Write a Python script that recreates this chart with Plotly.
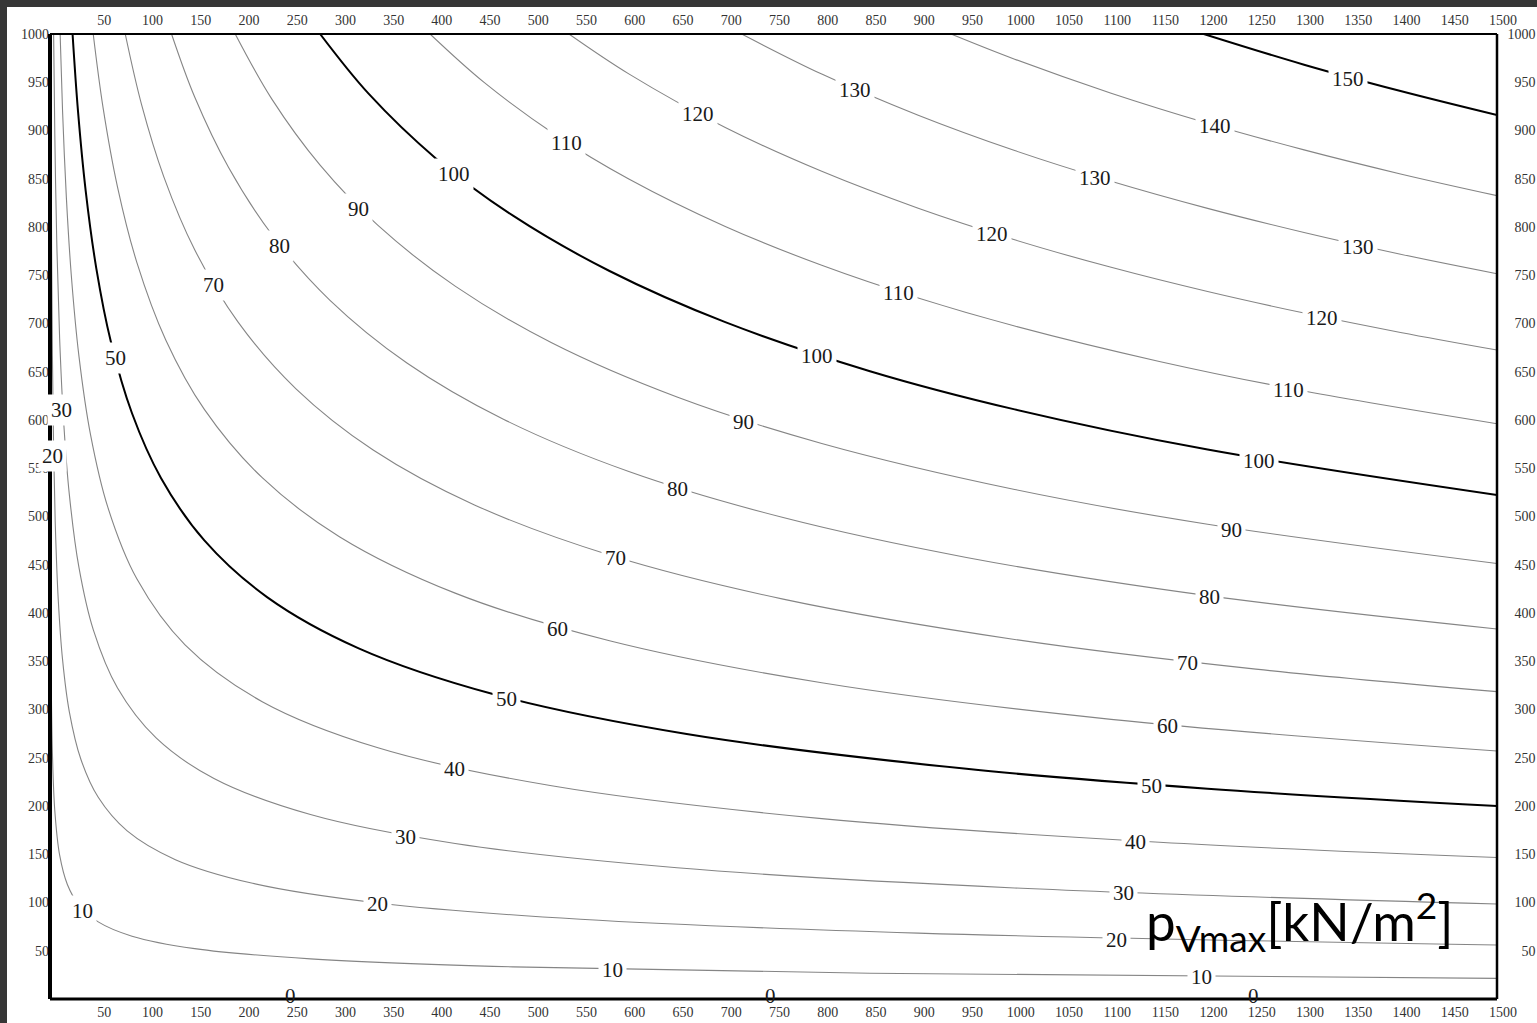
import plotly.graph_objects as go

# ---- contour lines (x, y data units) ----
x10 = [0.073, 0.15, 0.3, 0.6, 1.2, 2.5, 5, 10, 18, 30, 50, 85, 150, 270, 480, 850, 1500]
y10 = [1000, 756.8, 578.7, 442.5, 338.4, 254.7, 194.8, 149.0, 118.7, 97.4, 79.9, 65.1, 52.2, 41.6, 33.3, 26.7, 21.4]
x20 = [0.875, 1.2, 1.7, 2.5, 3.7, 5.5, 8.5, 13, 20, 32, 50, 80, 130, 210, 340, 550, 900, 1500]
y20 = [1000, 885.0, 773.3, 666.2, 572.4, 491.0, 414.8, 351.9, 297.9, 248.4, 209.0, 174.2, 144.4, 119.9, 99.5, 82.6, 68.3, 56.0]
x30 = [3.75, 5, 7, 10, 14, 20, 30, 45, 70, 110, 170, 270, 420, 650, 1000, 1500]
y30 = [1000, 894.7, 785.4, 684.1, 600.6, 523.2, 447.2, 382.2, 322.2, 270.5, 228.5, 191.1, 161.1, 136.0, 115.1, 98.4]
x40 = [10.5, 13, 17, 22, 30, 42, 60, 90, 140, 220, 340, 520, 800, 1150, 1500]
y40 = [1000, 920.7, 829.9, 751.1, 666.2, 584.8, 509.4, 435.4, 367.0, 308.1, 260.3, 220.9, 186.9, 162.4, 146.6]
x50 = [23.4, 29, 37, 48, 63, 85, 115, 160, 225, 320, 460, 660, 950, 1200, 1500]
y50 = [1000, 920.3, 837.5, 757.2, 681.6, 607.0, 540.0, 475.2, 416.5, 363.4, 315.8, 274.6, 238.5, 217.9, 199.9]
x60 = [44.8, 55, 70, 90, 120, 160, 220, 300, 420, 580, 800, 1100, 1500]
y60 = [1000, 923.7, 841.4, 763.4, 683.0, 611.0, 540.2, 479.1, 420.6, 371.2, 327.7, 289.8, 257.0]
x70 = [78, 95, 118, 150, 195, 255, 335, 440, 580, 760, 1000, 1250, 1500]
y70 = [1000, 926.5, 852.0, 776.4, 701.4, 632.3, 568.9, 512.0, 460.1, 414.4, 372.6, 341.8, 318.5]
x80 = [126, 150, 185, 230, 290, 370, 470, 600, 760, 950, 1200, 1500]
y80 = [1000, 934.7, 861.9, 792.2, 724.3, 659.1, 600.8, 546.6, 498.9, 457.6, 418.0, 383.4]
x90 = [192, 230, 280, 340, 420, 520, 650, 800, 1000, 1200, 1500]
y90 = [1000, 932.5, 864.1, 801.6, 738.7, 680.0, 623.8, 575.7, 528.0, 492.0, 451.3]
x100 = [280, 330, 400, 480, 580, 700, 850, 1000, 1200, 1500]
y100 = [1000, 938.4, 871.1, 811.7, 754.4, 701.4, 650.6, 611.0, 569.4, 522.3]
x110 = [394, 450, 525, 600, 700, 800, 900, 1000, 1150, 1300, 1500]
y110 = [1000, 949.9, 894.9, 849.8, 800.6, 760.3, 726.4, 697.4, 660.7, 630.0, 596.1]
x120 = [538, 600, 700, 800, 900, 1000, 1100, 1200, 1300, 1400, 1500]
y120 = [1000, 958.7, 903.1, 857.7, 819.5, 786.7, 758.2, 733.1, 710.8, 690.7, 672.5]
x130 = [717, 800, 900, 1000, 1100, 1200, 1300, 1400, 1500]
y130 = [1000, 958.5, 915.8, 879.2, 847.4, 819.3, 794.3, 771.8, 751.6]
x140 = [934, 1000, 1100, 1200, 1300, 1400, 1500]
y140 = [1000, 973.9, 938.7, 907.6, 879.9, 855.0, 832.5]
x150 = [1196, 1300, 1400, 1500]
y150 = [1000, 968.2, 940.9, 916.0]

levels = [10, 20, 30, 40, 50, 60, 70, 80, 90, 100, 110, 120, 130, 140, 150]
bold_levels = [50, 100, 150]

# ---- inline contour labels ----
label_level = [10, 10, 10, 20, 20, 20, 30, 30, 30, 40, 40, 50, 50, 50, 60, 60,
               70, 70, 70, 80, 80, 80, 90, 90, 90, 100, 100, 100, 110, 110, 110,
               120, 120, 120, 130, 130, 130, 140, 150]
label_x = [33.2, 583.6, 1194, 2.1, 339, 1106, 12.4, 369, 1113, 419.8, 1125.7,
           67.4, 472.7, 1142.3, 526.6, 1158.9, 169, 586.7, 1179.6, 238.4, 650, 1202.4,
           320.3, 718.4, 1225.2, 418.8, 795, 1253.2, 534.9, 880, 1284.3,
           671.7, 976.5, 1318.5, 834.5, 1083.2, 1355.9, 1207.6, 1345.5]
label_y = [91.2, 30.1, 22.8, 562.7, 98.4, 61.1, 610.4, 167.9, 109.8, 238.3, 162.7,
           664.2, 310.9, 220.7, 383.4, 282.9, 739.9, 457.0, 348.2, 780.3, 528.5, 416.6,
           818.7, 597.9, 486.0, 854.9, 666.3, 557.5, 887.0, 731.6, 631.0,
           917.1, 792.7, 705.7, 942.0, 850.8, 779.3, 904.7, 953.4]

zero_label_x = [248.8, 747.4, 1248]
zero_label_y = [3, 3, 3]

x_ticks = list(range(50, 1550, 50))
y_ticks = list(range(50, 1050, 50))

title_text = "p<sub>Vmax</sub>[kN/m<sup>2</sup>]"

xs = [x10, x20, x30, x40, x50, x60, x70, x80, x90, x100, x110, x120, x130, x140, x150]
ys = [y10, y20, y30, y40, y50, y60, y70, y80, y90, y100, y110, y120, y130, y140, y150]

fig = go.Figure()
for lev, xv, yv in zip(levels, xs, ys):
    bold = lev in bold_levels
    fig.add_trace(go.Scatter(
        x=xv, y=yv, mode="lines",
        line=dict(color="#000000" if bold else "#858585",
                  width=2.0 if bold else 1.1, shape="spline", smoothing=1.0),
        name=str(lev), showlegend=False, hoverinfo="skip", cliponaxis=True))

# invisible trace so the mirrored axes render
fig.add_trace(go.Scatter(x=[750], y=[500], xaxis="x2", yaxis="y2", mode="markers",
                         marker=dict(opacity=0), showlegend=False, hoverinfo="skip"))

serif = "Liberation Serif, Times New Roman, serif"
for lv, lx, ly in zip(label_level, label_x, label_y):
    fig.add_annotation(x=lx, y=ly, xref="x", yref="y", text=str(lv), showarrow=False,
                       font=dict(family=serif, size=21, color="#1a1a1a"),
                       bgcolor="white", borderpad=3)
for lx, ly in zip(zero_label_x, zero_label_y):
    fig.add_annotation(x=lx, y=ly, xref="x", yref="y", text="0", showarrow=False,
                       font=dict(family=serif, size=21, color="#1a1a1a"))

fig.add_annotation(x=1134, y=81, xref="x", yref="y", text=title_text, showarrow=False,
                   xanchor="left", yanchor="middle",
                   font=dict(family="Lato, Open Sans, sans-serif", size=53, color="#000000"))

W, H = 1537, 1023
ml, mr, mt, mb = 50, 0, 34, 24
pw, ph = W - ml - mr, H - mt - mb
dom_end = 1447 / pw

# frame (paper refs so thick lines are not clipped)
frame = [
    dict(x0=0, x1=0, y0=0, y1=1, w=4),
    dict(x0=0, x1=dom_end, y0=0, y1=0, w=3),
    dict(x0=0, x1=dom_end, y0=1, y1=1, w=2),
    dict(x0=dom_end, x1=dom_end, y0=0, y1=1, w=2.5),
]
for f in frame:
    fig.add_shape(type="line", xref="paper", yref="paper",
                  x0=f["x0"], x1=f["x1"], y0=f["y0"], y1=f["y1"],
                  line=dict(color="black", width=f["w"]), layer="above")

# dark outer border (top and left)
fig.add_shape(type="rect", xref="paper", yref="paper",
              x0=-ml / pw, x1=1.0, y0=1 + (mt - 7) / ph, y1=1 + mt / ph,
              fillcolor="#363636", line=dict(width=0), layer="above")
fig.add_shape(type="rect", xref="paper", yref="paper",
              x0=-ml / pw, x1=(7 - ml) / pw, y0=-mb / ph, y1=1 + mt / ph,
              fillcolor="#363636", line=dict(width=0), layer="above")

tickfont = dict(family=serif, size=14, color="#333333")
common_x = dict(range=[0, 1500], tickvals=x_ticks, showgrid=False, zeroline=False,
                showline=False, ticks="", tickfont=tickfont, ticklabelshift=6)
common_y = dict(range=[0, 1000], tickvals=y_ticks, showgrid=False, zeroline=False,
                showline=False, ticks="", tickfont=tickfont)

fig.update_layout(
    width=W, height=H, autosize=False,
    margin=dict(l=ml, r=mr, t=mt, b=mb, pad=0, autoexpand=False),
    paper_bgcolor="white", plot_bgcolor="white",
    showlegend=False,
    xaxis=dict(domain=[0, dom_end], side="bottom", anchor="y", ticklabelstandoff=3, **common_x),
    xaxis2=dict(domain=[0, dom_end], side="top", anchor="y", overlaying="x",
                matches="x", ticklabelstandoff=5, **common_x),
    yaxis=dict(domain=[0, 1], side="left", anchor="x", **common_y),
    yaxis2=dict(domain=[0, 1], side="left", anchor="free", position=0.999,
                overlaying="y", matches="y", **common_y),
)

fig.write_html(
    "out.html",
    config={"displayModeBar": False, "responsive": False},
    post_script="document.body.style.margin='0px';document.body.style.padding='0px';"
                "document.body.style.overflow='hidden';",
)
